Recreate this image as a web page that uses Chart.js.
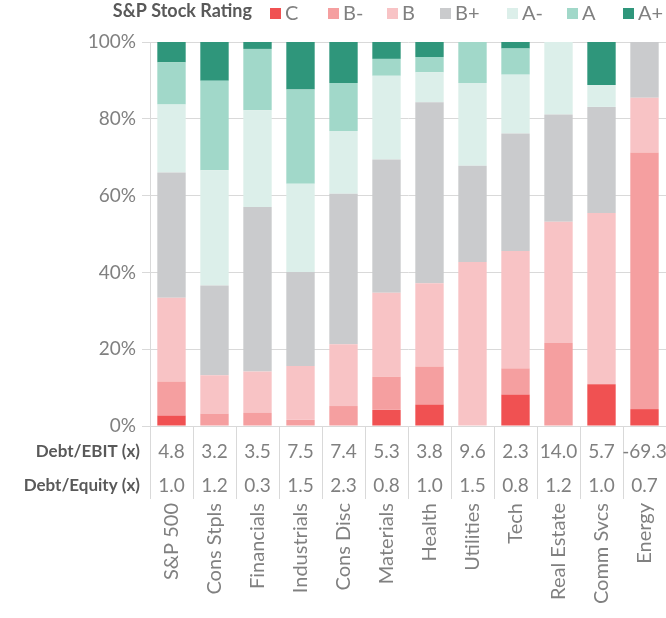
<!DOCTYPE html>
<html>
<head>
<meta charset="utf-8">
<script src="https://cdn.jsdelivr.net/npm/chart.js@4"></script>
<style>
  body { margin: 0; background: #fff; }
</style>
</head>
<body>
<canvas id="chart" width="666" height="618"></canvas>
<script>
const sectors = ['S&P 500', 'Cons Stpls', 'Financials', 'Industrials', 'Cons Disc', 'Materials',
  'Health', 'Utilities', 'Tech', 'Real Estate', 'Comm Svcs', 'Energy'];

const ratings = ['C', 'B-', 'B', 'B+', 'A-', 'A', 'A+'];
const ratingColors = ['#F05152', '#F59FA0', '#F8C3C5', '#CACBCD', '#DCEFEA', '#A1D8C9', '#2F967B'];

// share of market cap by rating (%)
const ratingC     = [2.7, 0, 0, 0, 0, 4.2, 5.6, 0, 8.2, 0, 10.9, 4.4];
const ratingBm    = [8.9, 3.2, 3.4, 1.6, 5.2, 8.6, 9.9, 0, 6.8, 21.6, 0, 66.8];
const ratingB     = [21.8, 10.0, 10.8, 14.0, 16.1, 21.9, 21.7, 42.7, 30.6, 31.6, 44.6, 14.3];
const ratingBp    = [32.6, 23.4, 42.8, 24.5, 39.2, 34.7, 47.1, 25.1, 30.6, 27.9, 27.6, 14.5];
const ratingAm    = [17.7, 30.0, 25.2, 23.0, 16.3, 21.8, 7.8, 21.5, 15.3, 18.9, 5.7, 0];
const ratingA     = [11.0, 23.3, 16.0, 24.5, 12.5, 4.4, 4.0, 10.7, 6.8, 0, 0, 0];
const ratingAp    = [5.3, 10.1, 1.8, 12.4, 10.7, 4.4, 3.9, 0, 1.7, 0, 11.2, 0];

const debtEbit   = [4.8, 3.2, 3.5, 7.5, 7.4, 5.3, 3.8, 9.6, 2.3, 14.0, 5.7, -69.3];
const debtEquity = [1.0, 1.2, 0.3, 1.5, 2.3, 0.8, 1.0, 1.5, 0.8, 1.2, 1.0, 0.7];

const yTicks = [0, 20, 40, 60, 80, 100];

const FONT = "'Century Gothic', Lato, sans-serif";
const seriesValues = [ratingC, ratingBm, ratingB, ratingBp, ratingAm, ratingA, ratingAp];

// table rows under the axis + legend at the top
const extrasPlugin = {
  id: 'extras',
  afterDraw(chart) {
    const ctx = chart.ctx;
    const x = chart.scales.x;
    const base = chart.chartArea.bottom;
    ctx.save();
    ctx.textBaseline = 'middle';

    // row labels
    ctx.font = 'bold 17px ' + FONT;
    ctx.fillStyle = '#595959';
    ctx.textAlign = 'right';
    ctx.fillText('Debt/EBIT (x)', 140, base + 26);
    ctx.fillText('Debt/Equity (x)', 140, base + 60);

    // row values
    ctx.font = '19px ' + FONT;
    ctx.fillStyle = '#808080';
    ctx.textAlign = 'center';
    sectors.forEach((s, i) => {
      const cx = x.getPixelForValue(i);
      ctx.fillText(debtEbit[i].toFixed(1), cx, base + 26);
      ctx.fillText(debtEquity[i].toFixed(1), cx, base + 60);
    });

    // legend
    ctx.font = 'bold 18px ' + FONT;
    ctx.fillStyle = '#595959';
    ctx.textAlign = 'right';
    ctx.fillText('S&P Stock Rating', 252, 11);

    const legendX = [270, 328, 387, 440, 507, 567, 623];
    ctx.font = '20px ' + FONT;
    ctx.textAlign = 'left';
    chart.data.datasets.forEach((ds, i) => {
      ctx.fillStyle = ds.backgroundColor;
      ctx.fillRect(legendX[i], 8, 11, 11);
      ctx.fillStyle = '#808080';
      ctx.fillText(ds.label, legendX[i] + 15, 14);
    });
    ctx.restore();
  }
};

new Chart(document.getElementById('chart').getContext('2d'), {
  type: 'bar',
  data: {
    labels: sectors,
    datasets: ratings.map((r, i) => ({
      label: r,
      data: seriesValues[i],
      backgroundColor: ratingColors[i],
      borderWidth: 0,
      categoryPercentage: 1,
      barPercentage: 0.66
    }))
  },
  options: {
    responsive: false,
    animation: false,
    devicePixelRatio: 1,
    layout: { padding: { top: 42, right: 0, left: 0, bottom: 0 } },
    plugins: {
      legend: { display: false },
      tooltip: { enabled: false }
    },
    scales: {
      x: {
        stacked: true,
        grid: {
          offset: true,
          drawOnChartArea: false,
          tickLength: 73,
          color: '#d9d9d9'
        },
        border: { color: '#d9d9d9' },
        ticks: {
          minRotation: 90,
          maxRotation: 90,
          padding: 4,
          color: '#808080',
          font: { family: FONT, size: 20 }
        },
        afterFit(scale) {
          scale.height = 192;
          scale.paddingLeft = 0;
          scale.paddingRight = 0;
        }
      },
      y: {
        stacked: true,
        min: 0,
        max: 100,
        afterBuildTicks(scale) { scale.ticks = yTicks.map(v => ({ value: v })); },
        grid: { color: '#d9d9d9', tickLength: 8 },
        border: { color: '#d9d9d9' },
        ticks: {
          padding: 6,
          color: '#808080',
          font: { family: FONT, size: 19 },
          callback: v => v + '%'
        },
        afterFit(scale) { scale.width = 150; }
      }
    }
  },
  plugins: [extrasPlugin]
});
</script>
</body>
</html>
